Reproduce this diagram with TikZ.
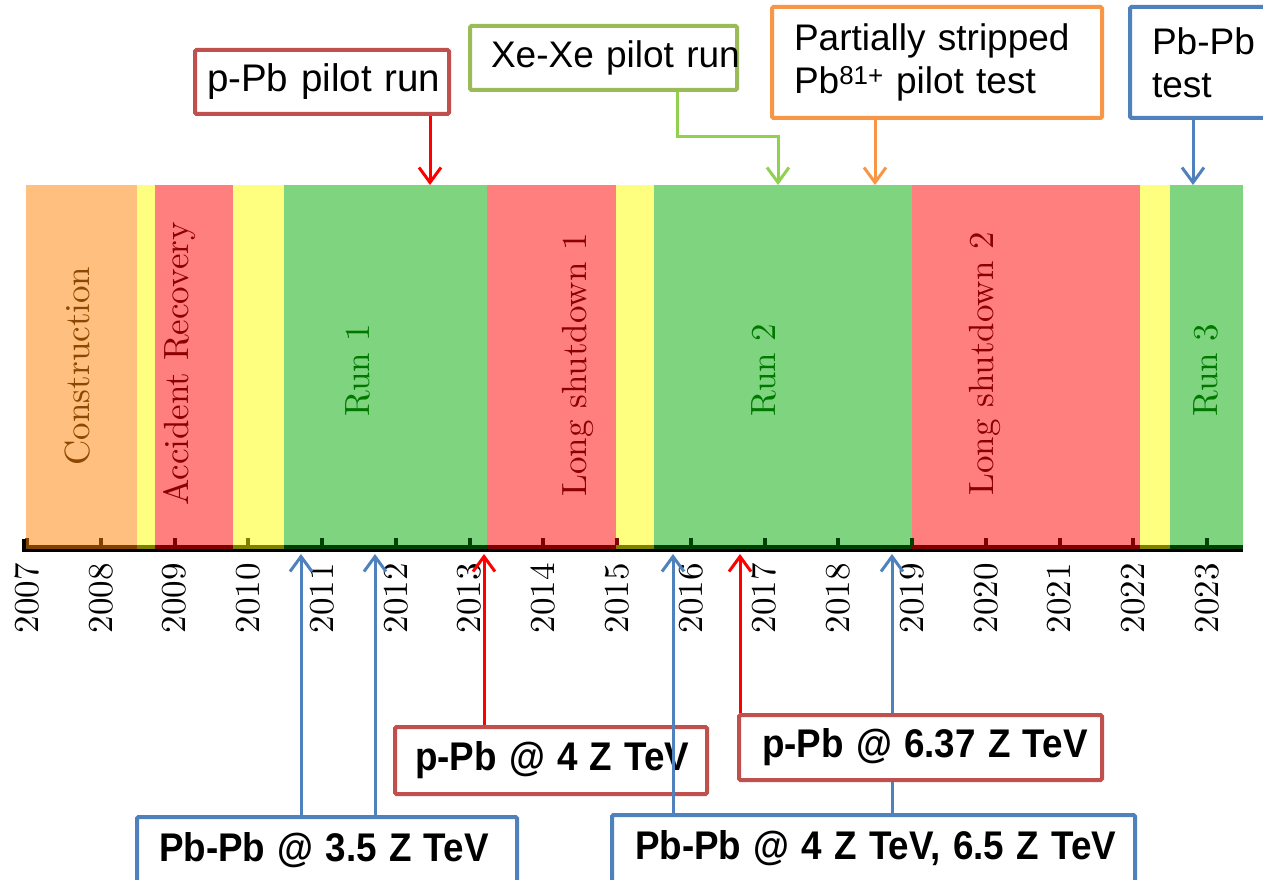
\documentclass[tikz,border=0pt]{standalone}
\usepackage{fontspec}
\usepackage{graphicx}
\newfontfamily\arialf{Liberation Sans}
\newfontfamily\lmten{lmroman10-regular.otf}
\usetikzlibrary{arrows.meta}
\newcommand{\narrowtxt}[1]{\scalebox{0.92}[1]{#1}}
\definecolor{cOrF}{RGB}{255,191,127}
\definecolor{cOrD}{RGB}{128,64,0}
\definecolor{cYeF}{RGB}{255,255,127}
\definecolor{cYeD}{RGB}{128,128,0}
\definecolor{cReF}{RGB}{255,127,127}
\definecolor{cReD}{RGB}{128,0,0}
\definecolor{cGrF}{RGB}{127,213,127}
\definecolor{cGrD}{RGB}{0,64,0}
\definecolor{cOrL}{RGB}{140,72,0}
\definecolor{cReL}{RGB}{140,0,0}
\definecolor{cGrL}{RGB}{0,120,0}
\definecolor{cRB}{RGB}{192,80,77}
\definecolor{cGB}{RGB}{155,187,89}
\definecolor{cOB}{RGB}{247,150,70}
\definecolor{cBB}{RGB}{79,129,189}
\definecolor{cGA}{RGB}{146,208,80}
\definecolor{cRA}{RGB}{255,0,0}
\begin{document}
\begin{tikzpicture}[x=1pt,y=1pt,
  yearlab/.style={rotate=90,anchor=east,inner sep=0pt,font=\lmten\fontsize{35}{40}\selectfont},
  bandlab/.style={rotate=90,inner sep=0pt,font=\lmten\fontsize{35}{40}\selectfont},
  box/.style={draw,line width=4pt,fill=white,rounded corners=1.5pt,anchor=north west,
    align=left,inner ysep=0pt,font=\arialf\fontsize{37}{43}\selectfont},
  bbox/.style={box,font=\arialf\bfseries\fontsize{40}{46}\selectfont},
  arr/.style={line width=3pt,-{Straight Barb[length=15pt,width=22pt]}},
  conn/.style={line width=3pt}]
\useasboundingbox (0,0) rectangle (1263,-880);
\clip (0,0) rectangle (1263,-880);
% bands
\foreach \a/\b/\f/\d in {26/137/cOrF/cOrD,137/155/cYeF/cYeD,155/233/cReF/cReD,233/284/cYeF/cYeD,
  284/487/cGrF/cGrD,487/616/cReF/cReD,616/654/cYeF/cYeD,654/912/cGrF/cGrD,
  912/1140/cReF/cReD,1140/1170/cYeF/cYeD,1170/1243/cGrF/cGrD}{
  \fill[\f] (\a,-185) rectangle (\b,-549);
  \fill[\d] (\a,-545) rectangle (\b,-549);
}
% ticks
\foreach \i/\d in {0/cOrD,1/cOrD,2/cReD,3/cYeD,4/cGrD,5/cGrD,6/cGrD,7/cReD,8/cReD,
  9/cGrD,10/cGrD,11/cGrD,12/cGrD,13/cReD,14/cReD,15/cReD,16/cGrD}{
  \fill[\d] ({27+\i*73.75-2},-538) rectangle ({27+\i*73.75+2},-545);
}
\fill[black] (22,-549) rectangle (1243,-552);
\fill[black] (22,-539) rectangle (26,-549);
% year labels
\foreach \i [evaluate=\i as \yr using int(2007+\i)] in {0,...,16}{
  \node[yearlab] (yr\i) at ({27+\i*73.75},-563) {\yr};
}
% band labels
\node[bandlab,text=cOrL] (lCon) at (78,-366) {Construction};
\node[bandlab,text=cReL] (lAcc) at (180,-364) {Accident Recovery};
\node[bandlab,text=cGrL] (lR1) at (358,-370) {Run 1};
\node[bandlab,text=cReL] (lLS1) at (578,-365) {Long shutdown 1};
\node[bandlab,text=cGrL] (lR2) at (764,-370) {Run 2};
\node[bandlab,text=cReL] (lLS2) at (985,-364) {Long shutdown 2};
\node[bandlab,text=cGrL] (lR3) at (1206,-370) {Run 3};
% arrow target coordinates
\coordinate (tA) at (430,-185);
\coordinate (kB) at (677,-137);
\coordinate (tB) at (778,-185);
\coordinate (tC) at (875,-185);
\coordinate (tD) at (1193,-185);
\coordinate (bA1) at (301,-554);
\coordinate (bA2) at (375,-554);
\coordinate (bB) at (484,-554);
\coordinate (bC) at (740,-554);
\coordinate (bD1) at (673,-554);
\coordinate (bD2) at (892,-554);
% top boxes
\node[box,draw=cRB,minimum width=254,minimum height=64,text width=230,inner xsep=12,font=\arialf\fontsize{38.5}{43}\selectfont] (pPbpilot) at (193,-48) {\mbox{p-Pb pilot run}};
\node[box,draw=cGB,minimum width=267,minimum height=64,text width=225,inner xsep=21] (XeXe) at (468,-24) {\mbox{Xe-Xe pilot run}};
\node[box,draw=cOB,minimum width=330,minimum height=111,text width=286,inner xsep=22] (Partial) at (770,-5) {\mbox{Partially stripped}\\\mbox{Pb\textsuperscript{81+} pilot test}};
\node[box,draw=cBB,minimum width=170,minimum height=111,text width=126,inner xsep=22] (PbTest) at (1128,-5) {\mbox{Pb-Pb}\\\mbox{test}};
\draw[arr,cRA] (pPbpilot.south -| tA) -- (tA);
\draw[arr,cGA] (XeXe.south -| kB) -- (kB) -| (tB);
\draw[arr,cOB] (Partial.south -| tC) -- (tC);
\draw[arr,cBB] (PbTest.south -| tD) -- (tD);
% bottom boxes
\node[bbox,draw=cBB,minimum width=380,minimum height=67,text width=336,inner xsep=22] (PbPb35) at (135,-815) {\narrowtxt{Pb-Pb @ 3.5 Z TeV}};
\node[bbox,draw=cBB,minimum width=523,minimum height=67,text width=477,inner xsep=23] (PbPb465) at (610,-813) {\narrowtxt{Pb-Pb @ 4 Z TeV, 6.5 Z TeV}};
\draw[arr,cBB] (PbPb465.north -| bD2) -- (bD2);
\node[bbox,draw=cRB,minimum width=312,minimum height=67,text width=272,inner xsep=20] (pPb4) at (393,-725) {\narrowtxt{p-Pb @ 4 Z TeV}};
\node[bbox,draw=cRB,minimum width=363,minimum height=65,text width=317,inner xsep=23] (pPb637) at (737,-713) {\narrowtxt{p-Pb @ 6.37 Z TeV}};
\draw[arr,cBB] (PbPb465.north -| bD1) -- (bD1);
\draw[arr,cBB] (PbPb35.north -| bA1) -- (bA1);
\draw[arr,cBB] (PbPb35.north -| bA2) -- (bA2);
\draw[arr,cRA] (pPb4.north -| bB) -- (bB);
\draw[arr,cRA] (pPb637.north -| bC) -- (bC);
\end{tikzpicture}
\end{document}
